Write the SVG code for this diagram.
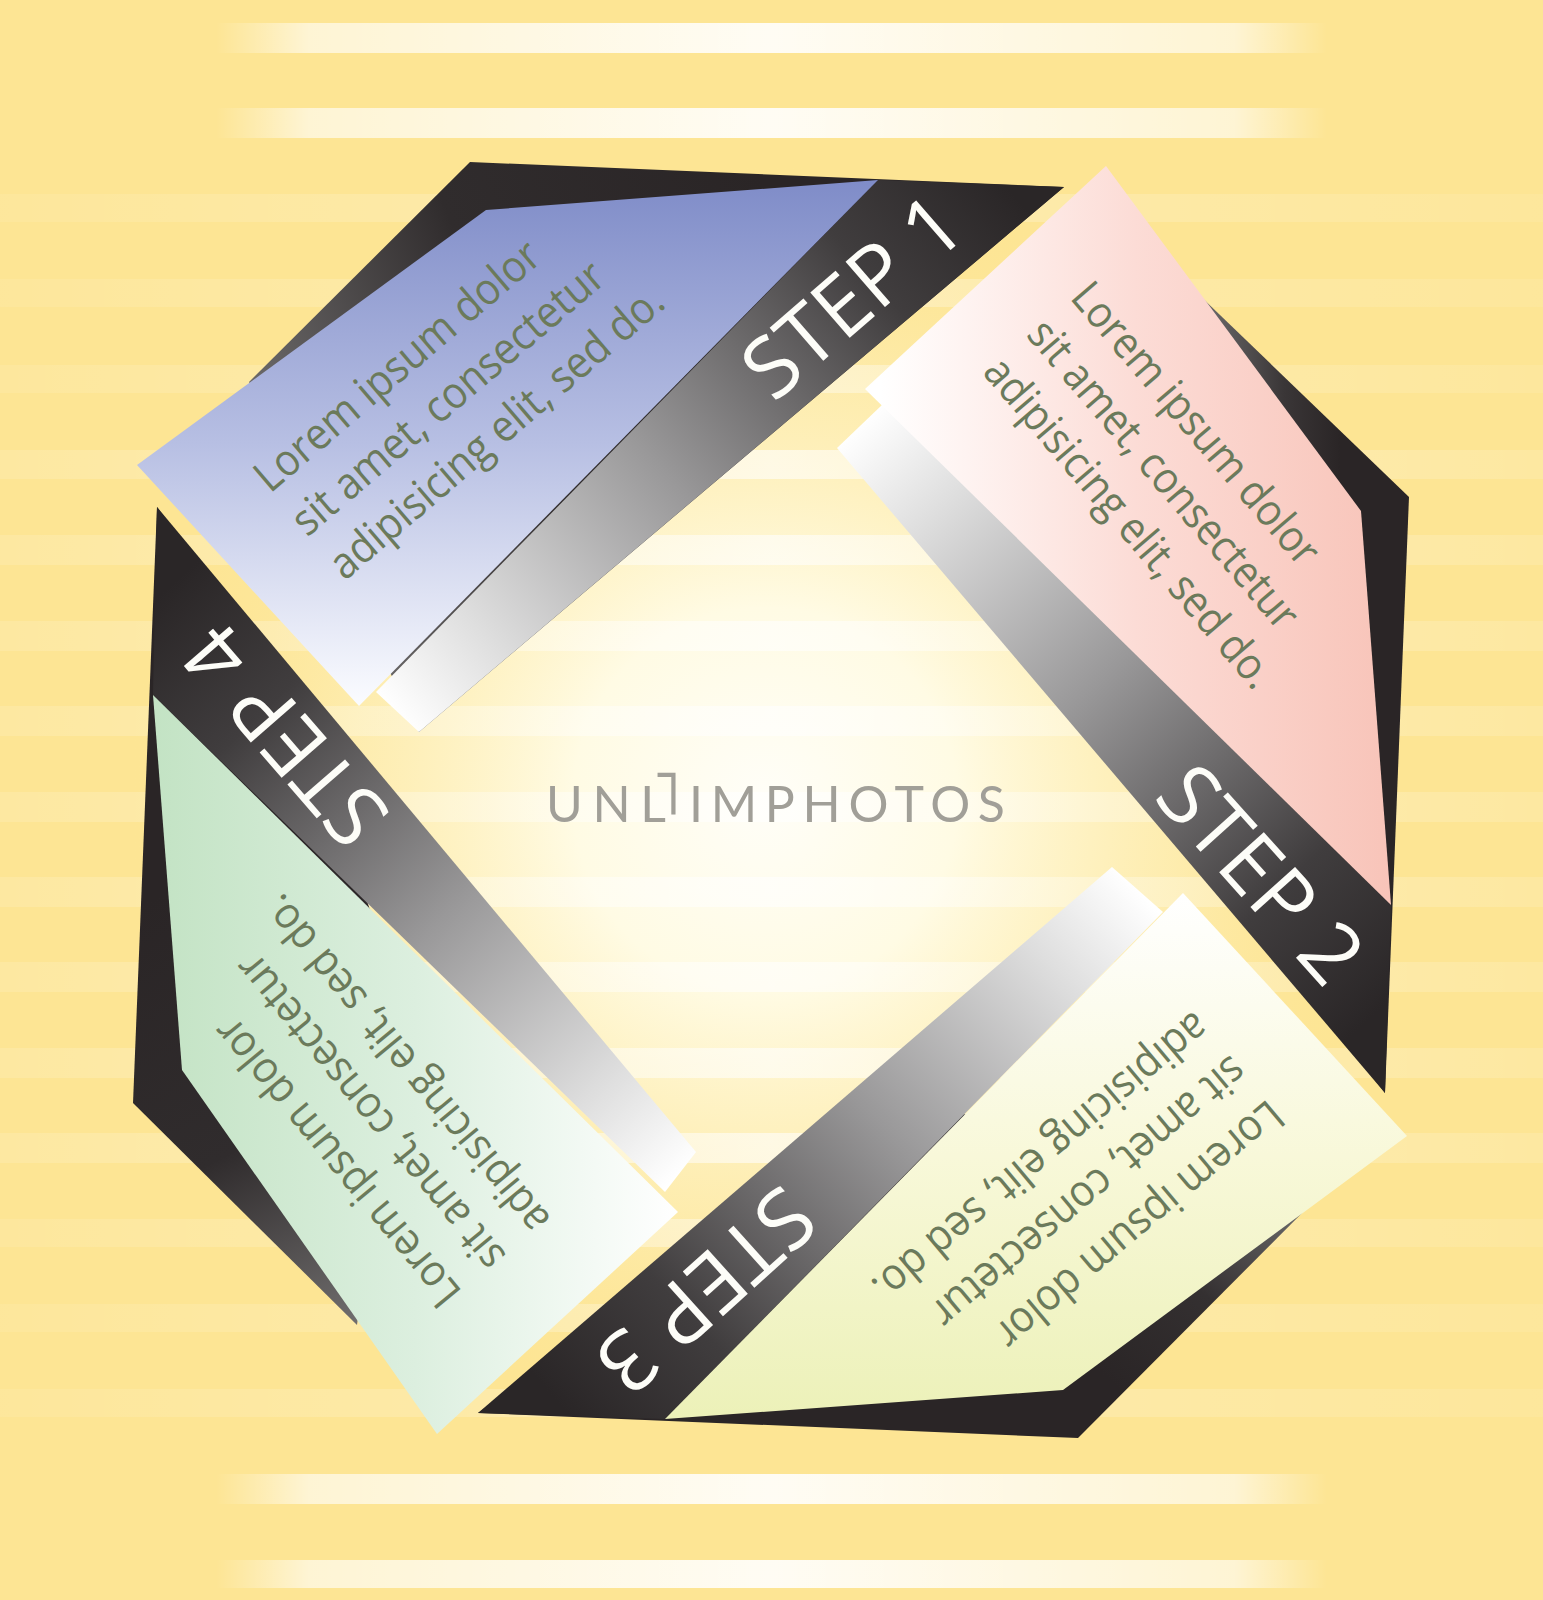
<svg xmlns="http://www.w3.org/2000/svg" width="1543" height="1600" viewBox="0 0 1543 1600">
<defs>
<style>
.lorem{font-family:"Open Sans","Noto Sans",sans-serif;font-size:44px;fill:#6b7a5b;}
.step{font-family:"Open Sans","Noto Sans",sans-serif;font-size:84px;fill:#fdfdf8;text-anchor:middle;}
.wm{font-family:"Lato","DejaVu Sans",sans-serif;font-size:50px;fill:#a19f98;}
</style>
<radialGradient id="glow" gradientUnits="userSpaceOnUse" cx="765" cy="800" r="640">
<stop offset="0" stop-color="#fffef8"/>
<stop offset="0.3" stop-color="#fffbe4"/>
<stop offset="0.65" stop-color="#fef1bf" stop-opacity="0.6"/>
<stop offset="1" stop-color="#fde594" stop-opacity="0"/>
</radialGradient>
<linearGradient id="stripeStrong" x1="0" y1="0" x2="1" y2="0">
<stop offset="0.14" stop-color="#fff" stop-opacity="0"/>
<stop offset="0.2" stop-color="#fff" stop-opacity="0.6"/>
<stop offset="0.5" stop-color="#fff" stop-opacity="0.9"/>
<stop offset="0.8" stop-color="#fff" stop-opacity="0.6"/>
<stop offset="0.86" stop-color="#fff" stop-opacity="0"/>
</linearGradient>
<linearGradient id="stripeSoft" x1="0" y1="0" x2="1" y2="0">
<stop offset="0" stop-color="#fff" stop-opacity="0.12"/>
<stop offset="0.3" stop-color="#fff" stop-opacity="0.3"/>
<stop offset="0.5" stop-color="#fff" stop-opacity="0.6"/>
<stop offset="0.7" stop-color="#fff" stop-opacity="0.3"/>
<stop offset="1" stop-color="#fff" stop-opacity="0.12"/>
</linearGradient>
<linearGradient id="band1" gradientUnits="userSpaceOnUse" x1="1000" y1="180" x2="395" y2="715">
<stop offset="0" stop-color="#2a2627"/><stop offset="0.2" stop-color="#403d3e"/><stop offset="0.55" stop-color="#999899"/><stop offset="0.85" stop-color="#dedede"/><stop offset="1" stop-color="#ffffff"/>
</linearGradient>
<linearGradient id="band2" gradientUnits="userSpaceOnUse" x1="1390" y1="1000" x2="858" y2="425">
<stop offset="0" stop-color="#2a2627"/><stop offset="0.2" stop-color="#403d3e"/><stop offset="0.55" stop-color="#999899"/><stop offset="0.85" stop-color="#dedede"/><stop offset="1" stop-color="#ffffff"/>
</linearGradient>
<linearGradient id="band3" gradientUnits="userSpaceOnUse" x1="570" y1="1415" x2="1138" y2="890">
<stop offset="0" stop-color="#2a2627"/><stop offset="0.2" stop-color="#403d3e"/><stop offset="0.55" stop-color="#999899"/><stop offset="0.85" stop-color="#dedede"/><stop offset="1" stop-color="#ffffff"/>
</linearGradient>
<linearGradient id="band4" gradientUnits="userSpaceOnUse" x1="155" y1="600" x2="682" y2="1172">
<stop offset="0" stop-color="#2a2627"/><stop offset="0.2" stop-color="#403d3e"/><stop offset="0.55" stop-color="#999899"/><stop offset="0.85" stop-color="#dedede"/><stop offset="1" stop-color="#ffffff"/>
</linearGradient>
<linearGradient id="back1" gradientUnits="userSpaceOnUse" x1="760" y1="175" x2="250" y2="385">
<stop offset="0" stop-color="#2a2526"/><stop offset="0.55" stop-color="#302c2d"/><stop offset="1" stop-color="#6b6969"/>
</linearGradient>
<linearGradient id="back2" gradientUnits="userSpaceOnUse" x1="1200" y1="0" x2="1340" y2="0">
<stop offset="0" stop-color="#6e6d6d"/><stop offset="0.6" stop-color="#3a3637"/><stop offset="1" stop-color="#2a2526"/>
</linearGradient>
<linearGradient id="back3" gradientUnits="userSpaceOnUse" x1="1300" y1="1210" x2="1150" y2="1410">
<stop offset="0" stop-color="#6a6969"/><stop offset="0.5" stop-color="#343031"/><stop offset="1" stop-color="#2a2526"/>
</linearGradient>
<linearGradient id="back4" gradientUnits="userSpaceOnUse" x1="150" y1="900" x2="360" y2="1330">
<stop offset="0" stop-color="#2a2526"/><stop offset="0.55" stop-color="#302c2d"/><stop offset="1" stop-color="#727070"/>
</linearGradient>
<linearGradient id="card1" gradientUnits="userSpaceOnUse" x1="0" y1="180" x2="0" y2="706">
<stop offset="0" stop-color="#7f8cc8"/><stop offset="0.5" stop-color="#b7bfe3"/><stop offset="1" stop-color="#fbfcff"/>
</linearGradient>
<linearGradient id="card2" gradientUnits="userSpaceOnUse" x1="880" y1="0" x2="1390" y2="0">
<stop offset="0" stop-color="#ffffff"/><stop offset="0.5" stop-color="#fcdcd6"/><stop offset="1" stop-color="#f8c4b9"/>
</linearGradient>
<linearGradient id="card3" gradientUnits="userSpaceOnUse" x1="0" y1="893" x2="0" y2="1420">
<stop offset="0" stop-color="#ffffff"/><stop offset="0.5" stop-color="#f8f8d9"/><stop offset="1" stop-color="#ecf1b8"/>
</linearGradient>
<linearGradient id="card4" gradientUnits="userSpaceOnUse" x1="153" y1="0" x2="678" y2="0">
<stop offset="0" stop-color="#c3e3c4"/><stop offset="0.5" stop-color="#dcefdf"/><stop offset="1" stop-color="#ffffff"/>
</linearGradient>
</defs>

<g id="background">
<rect x="0" y="0" width="1543" height="1600" fill="#fde594"/>
<rect x="0" y="0" width="1543" height="1600" fill="url(#glow)"/>
<g id="stripes">
<rect x="0" y="23" width="1543" height="30" fill="url(#stripeStrong)"/>
<rect x="0" y="108" width="1543" height="30" fill="url(#stripeStrong)"/>
<rect x="0" y="194" width="1543" height="28" fill="url(#stripeSoft)" opacity="0.6"/>
<rect x="0" y="279" width="1543" height="28" fill="url(#stripeSoft)" opacity="0.6"/>
<rect x="0" y="365" width="1543" height="28" fill="url(#stripeSoft)" opacity="0.7"/>
<rect x="0" y="450" width="1543" height="29" fill="url(#stripeSoft)"/>
<rect x="0" y="535" width="1543" height="30" fill="url(#stripeSoft)"/>
<rect x="0" y="621" width="1543" height="30" fill="url(#stripeSoft)"/>
<rect x="0" y="706" width="1543" height="30" fill="url(#stripeSoft)"/>
<rect x="0" y="792" width="1543" height="30" fill="url(#stripeSoft)"/>
<rect x="0" y="877" width="1543" height="30" fill="url(#stripeSoft)"/>
<rect x="0" y="962" width="1543" height="30" fill="url(#stripeSoft)"/>
<rect x="0" y="1048" width="1543" height="30" fill="url(#stripeSoft)"/>
<rect x="0" y="1133" width="1543" height="30" fill="url(#stripeSoft)"/>
<rect x="0" y="1219" width="1543" height="28" fill="url(#stripeSoft)" opacity="0.7"/>
<rect x="0" y="1304" width="1543" height="28" fill="url(#stripeSoft)" opacity="0.6"/>
<rect x="0" y="1389" width="1543" height="28" fill="url(#stripeSoft)" opacity="0.6"/>
<rect x="0" y="1474" width="1543" height="30" fill="url(#stripeStrong)"/>
<rect x="0" y="1560" width="1543" height="28" fill="url(#stripeStrong)"/>
</g>
<text id="watermark" class="wm"><tspan x="546" y="822" textLength="120" lengthAdjust="spacing">UNL</tspan><tspan x="651" y="815" style="font-family:'DejaVu Sans',sans-serif;font-size:63px">˥</tspan><tspan x="689" y="822" textLength="316" lengthAdjust="spacing">IMPHOTOS</tspan></text>
</g>

<g id="connectors"></g>

<g id="step1">
<polygon points="470,162 1064,187 419,732 249,382" fill="url(#back1)"/>
<polygon points="878,180 1064,187 419,732 376,692" fill="url(#band1)"/>
<polygon points="137,465 486,210 878,180 359,706" fill="url(#card1)"/>
<g transform="translate(852,296) rotate(-41)"><text class="step" x="0" y="30">STEP 1</text></g>
<g transform="translate(270,494) rotate(-40.5) scale(0.92,1)">
<text class="lorem" x="0" y="0">Lorem ipsum dolor</text>
<text class="lorem" x="0" y="57.5">sit amet, consectetur</text>
<text class="lorem" x="0" y="115">adipisicing elit, sed do.</text>
</g>
</g>

<g id="step2">
<polygon points="1194,290 1409,497 1385,1093 1000,600" fill="url(#back2)"/>
<polygon points="883,404 1391,905 1385,1093 837,448" fill="url(#band2)"/>
<polygon points="1106,166 1361,511 1391,905 865,389" fill="url(#card2)"/>
<g transform="translate(1261,874) rotate(48)"><text class="step" x="0" y="30">STEP 2</text></g>
<g transform="translate(1069,298) rotate(49.5) scale(0.91,1)">
<text class="lorem" x="0" y="0">Lorem ipsum dolor</text>
<text class="lorem" x="0" y="57.5">sit amet, consectetur</text>
<text class="lorem" x="0" y="115">adipisicing elit, sed do.</text>
</g>
</g>

<g id="step3">
<polygon points="1322,1193 1078,1438 478,1413 900,1100" fill="url(#back3)"/>
<polygon points="1112,867 1163,912 665,1419 478,1413" fill="url(#band3)"/>
<polygon points="1183,893 1407,1136 1063,1390 665,1419" fill="url(#card3)"/>
<g transform="translate(706,1291) rotate(138)"><text class="step" x="0" y="30">STEP 3</text></g>
<g transform="translate(1268,1098) rotate(140) scale(0.92,1)">
<text class="lorem" x="0" y="0">Lorem ipsum dolor</text>
<text class="lorem" x="0" y="57.5">sit amet, consectetur</text>
<text class="lorem" x="0" y="115">adipisicing elit, sed do.</text>
</g>
</g>

<g id="step4">
<polygon points="157,507 133,1103 357,1325 400,1000 300,700" fill="url(#back4)"/>
<polygon points="157,507 696,1152 665,1192 153,695" fill="url(#band4)"/>
<polygon points="153,695 678,1212 437,1434 182,1070" fill="url(#card4)"/>
<g transform="translate(285,736) rotate(-131)"><text class="step" x="0" y="30">STEP 4</text></g>
<g transform="translate(463,1292) rotate(-129.5) scale(0.92,1)">
<text class="lorem" x="0" y="0">Lorem ipsum dolor</text>
<text class="lorem" x="0" y="57.5">sit amet, consectetur</text>
<text class="lorem" x="0" y="115">adipisicing elit, sed do.</text>
</g>
</g>
</svg>
